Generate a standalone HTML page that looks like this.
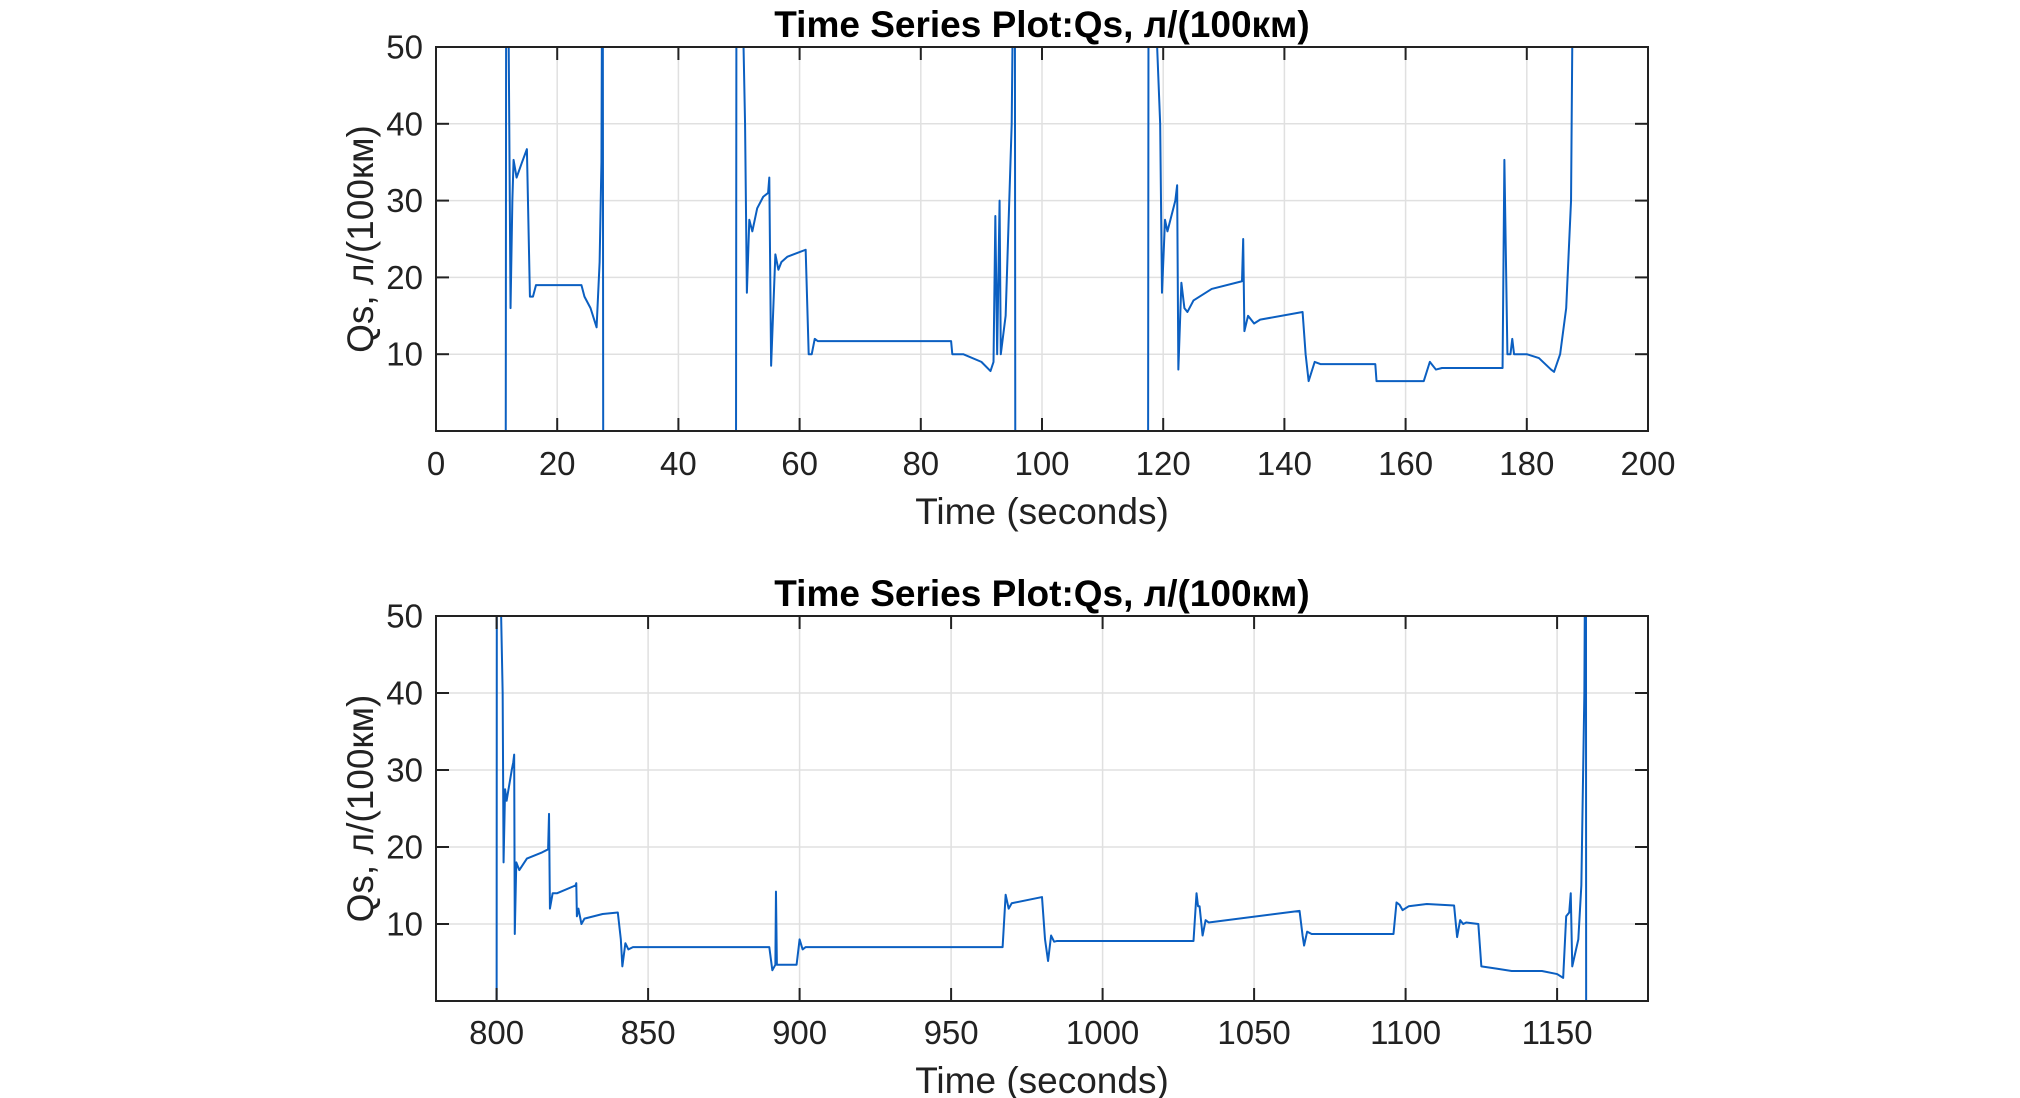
<!DOCTYPE html>
<html><head><meta charset="utf-8">
<style>
html,body{margin:0;padding:0;background:#fff;}
svg{display:block;font-family:"Liberation Sans",Arial,sans-serif;}
</style></head>
<body>
<svg id="fig" width="2020" height="1098" viewBox="0 0 2020 1098" xmlns="http://www.w3.org/2000/svg"></svg>
<script>
// ---- Top plot data ----
const topTime = [11.5,11.6,12.0,12.3,12.6,12.8,13.3,14.2,15.0,15.5,16.0,16.5,17.0,24.0,24.5,25.5,26.5,27.0,27.3,27.5,27.6,
 null,
 49.5,49.6,50.5,51.0,51.3,51.7,52.2,53.0,54.0,54.8,55.0,55.3,56.0,56.5,57.0,58.0,60.0,61.0,61.5,62.0,62.5,63.0,85.0,85.2,87.0,90.0,91.5,92.0,92.3,92.6,93.0,93.2,94.0,95.0,95.5,95.6,
 null,
 117.5,117.6,119.0,119.5,119.8,120.3,120.7,122.0,122.3,122.5,123.0,123.5,124.0,125.0,128.0,133.0,133.2,133.4,134.0,135.0,136.0,143.0,143.5,144.0,145.0,146.0,155.0,155.2,163.0,164.0,165.0,166.0,176.0,176.3,176.8,177.3,177.6,177.9,180.0,182.0,184.0,184.5,185.5,186.5,187.3,187.6,187.7];
const topValue = [-10,80,50,16,30,35.3,33,35,36.7,17.5,17.5,19,19,19,17.5,16,13.5,22,35,80,-10,
 null,
 -10,80,60,40,18,27.5,26,29,30.5,31,33,8.5,23,21,22,22.7,23.3,23.6,10,10,12,11.7,11.7,10,10,9,7.8,9,28,10,30,10,15,40,80,-10,
 null,
 -10,80,50,40,18,27.5,26,30,32,8,19.3,16,15.5,17,18.5,19.5,25,13,15,14,14.5,15.5,10,6.5,9,8.7,8.7,6.5,6.5,9,8,8.2,8.2,35.3,10,10,12,10,10,9.5,8,7.7,10,16,30,60,80];
const topXTicks = [0,20,40,60,80,100,120,140,160,180,200];
const yTicks = [10,20,30,40,50];

// ---- Bottom plot data ----
const botTime = [800.0,800.1,801.5,802.0,802.3,802.8,803.3,805.0,805.5,805.8,806.0,806.5,807.5,810,815,817,817.3,817.6,818.5,820,826,826.3,826.5,827,828,829,835,840,841,841.5,842.5,843.5,845,890,891,892,892.2,892.5,899,900,901,902,967,968,969,970,980,981,982,983,984,985,1030,1031,1031.5,1032,1033,1034,1035,1065,1066,1066.5,1067.5,1069,1096,1097,1098,1099,1101,1107,1116,1117,1118,1119,1120,1124,1125,1130,1135,1145,1150,1152,1153,1154,1154.5,1155,1157,1158,1159,1159.5,1159.6];
const botValue = [-10,80,50,40,18,27.5,26,30,31,32,8.7,18,17,18.5,19.3,19.7,24.3,12,14,14,15,15.3,11,12,10,10.7,11.3,11.5,8,4.5,7.5,6.7,7,7,4,4.7,14.2,4.7,4.7,8,6.7,7,7,13.8,12,12.7,13.5,8,5.2,8.5,7.7,7.8,7.8,14,12.3,12.3,8.5,10.5,10.2,11.7,8.5,7.2,9,8.7,8.7,12.8,12.5,11.8,12.3,12.6,12.4,8.3,10.5,10,10.2,10,4.5,4.2,3.9,3.9,3.5,3,11,11.5,14,4.5,8,15,40,80,-10];
const botXTicks = [800,850,900,950,1000,1050,1100,1150];

const NS = "http://www.w3.org/2000/svg";
const svg = document.getElementById('fig');
function mk(tag, attrs, parent){
  const e = document.createElementNS(NS, tag);
  for (const k in attrs) e.setAttribute(k, attrs[k]);
  (parent||svg).appendChild(e);
  return e;
}

function drawPlot(id, box, xMin, xMax, xTicks, times, values, titleY, tickLabelY, xlabelY){
  const L = box.l, R = box.r, T = box.t, B = box.b;
  const sx = v => L + (v - xMin) / (xMax - xMin) * (R - L);
  const sy = v => B - (v - 0) / 50 * (B - T);
  const g = mk('g', {});
  
  

  const clip = mk('clipPath', {id: id + '-clip'}, g);
  mk('rect', {x: L, y: T, width: R - L, height: B - T}, clip);

  for (const t of xTicks) {
    const gl = mk('line', {x1: sx(t), x2: sx(t), y1: T, y2: B, stroke: '#e0e0e0', 'stroke-width': 1.5}, g);
    
    
  }
  for (const v of yTicks) {
    const gl = mk('line', {x1: L, x2: R, y1: sy(v), y2: sy(v), stroke: '#e0e0e0', 'stroke-width': 1.5}, g);
    
    
  }

  let d = '', pen = false;
  for (let i = 0; i < times.length; i++) {
    if (times[i] === null || values[i] === null) { pen = false; continue; }
    d += (pen ? 'L' : 'M') + sx(times[i]).toFixed(2) + ' ' + sy(values[i]).toFixed(2);
    pen = true;
  }
  const line = mk('path', {d: d, fill: 'none', stroke: '#0b5fc1', 'stroke-width': 2, 'stroke-linejoin': 'round', 'clip-path': 'url(#' + id + '-clip)'}, g);
  
  

  const bx = mk('rect', {x: L, y: T, width: R - L, height: B - T, fill: 'none', stroke: '#222', 'stroke-width': 2}, g);
  
  

  for (const t of xTicks) {
    mk('line', {x1: sx(t), x2: sx(t), y1: B, y2: B - 13, stroke: '#222', 'stroke-width': 2}, g);
    mk('line', {x1: sx(t), x2: sx(t), y1: T, y2: T + 13, stroke: '#222', 'stroke-width': 2}, g);
    const tl = mk('text', {x: sx(t), y: tickLabelY, 'font-size': 33, 'text-anchor': 'middle', fill: '#222'}, g);
    tl.textContent = t;
    
    
  }
  for (const v of yTicks) {
    mk('line', {x1: L, x2: L + 13, y1: sy(v), y2: sy(v), stroke: '#222', 'stroke-width': 2}, g);
    mk('line', {x1: R, x2: R - 13, y1: sy(v), y2: sy(v), stroke: '#222', 'stroke-width': 2}, g);
    const tl = mk('text', {x: L - 13, y: sy(v) + 11.5, 'font-size': 33, 'text-anchor': 'end', fill: '#222'}, g);
    tl.textContent = v;
    
    
  }

  const title = mk('text', {x: (L + R) / 2, y: titleY, 'font-size': 37, 'font-weight': 'bold', 'text-anchor': 'middle', fill: '#000'}, g);
  title.textContent = 'Time Series Plot:Qs, л/(100км)';
  
  

  const xl = mk('text', {x: (L + R) / 2, y: xlabelY, 'font-size': 37, 'text-anchor': 'middle', fill: '#222'}, g);
  xl.textContent = 'Time (seconds)';
  
  

  const cy = (T + B) / 2;
  const yl = mk('text', {x: 0, y: 0, 'font-size': 37, 'text-anchor': 'middle', fill: '#222', transform: 'translate(373,' + cy + ') rotate(-90)'}, g);
  yl.textContent = 'Qs, л/(100км)';
  
  
}

drawPlot('top', {l: 436, r: 1648, t: 47, b: 431}, 0, 200, topXTicks, topTime, topValue, 37, 475, 524);
drawPlot('bottom', {l: 436, r: 1648, t: 616, b: 1001}, 780, 1180, botXTicks, botTime, botValue, 606, 1044, 1093);
</script>
</body></html>
